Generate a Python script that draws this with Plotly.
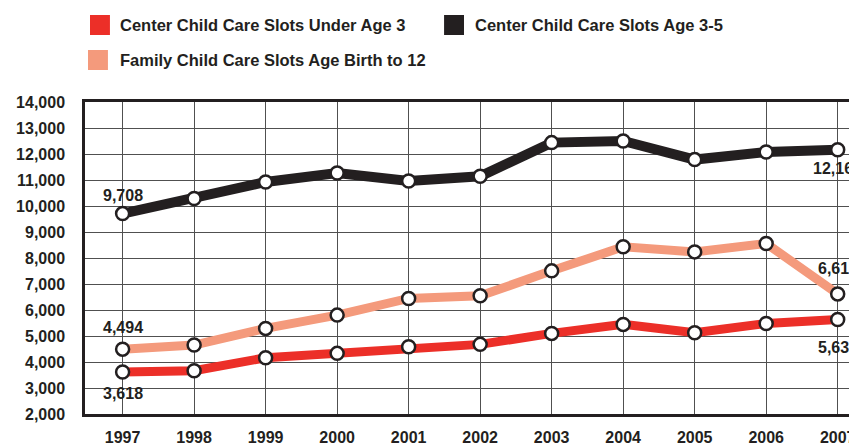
import plotly.graph_objects as go

years = [1997, 1998, 1999, 2000, 2001, 2002, 2003, 2004, 2005, 2006, 2007]
center_under3 = [3618, 3663, 4163, 4332, 4585, 4678, 5100, 5446, 5123, 5484, 5637]
center_age3_5 = [9708, 10287, 10924, 11270, 10963, 11143, 12438, 12500, 11785, 12077, 12161]
family_birth12 = [4494, 4651, 5292, 5803, 6445, 6545, 7505, 8430, 8235, 8558, 6619]

names = ["Center Child Care Slots Under Age 3",
         "Center Child Care Slots Age 3-5",
         "Family Child Care Slots Age Birth to 12"]
colors = ["#EC2F28", "#231F20", "#F49A7C"]

y_ticks = list(range(2000, 14001, 1000))

FONT = "Liberation Sans Narrow, Arial Narrow, Liberation Sans, sans-serif"
DARK = "#231F20"

# page offset (browser default body margin)
OFF = 8
W, H = 857, 447
ML, MT = 83 - OFF, 102 - OFF
MR = OFF
MB = H - (414 - OFF)
PW, PH = W - ML - MR, H - MT - MB


def px(x):
    return (x - OFF - ML) / PW


def py(y):
    return (H - MB - (y - OFF)) / PH


fig = go.Figure()

# (values, colour, line width, label y-shift for first point, for last point)
series = [
    (center_age3_5, colors[1], 10, 18, -19),
    (family_birth12, colors[2], 9, 22, 25),
    (center_under3, colors[0], 9, -22, -28),
]
for vals, col, lw, s_first, s_last in series:
    fig.add_trace(go.Scatter(
        x=years, y=vals, mode="lines+markers",
        line=dict(color=col, width=lw),
        marker=dict(size=13, color="white", line=dict(color=DARK, width=2.5)),
        cliponaxis=False, showlegend=False, hoverinfo="x+y",
    ))
    for idx, shift in ((0, s_first), (len(vals) - 1, s_last)):
        fig.add_annotation(x=years[idx], y=vals[idx], text=f"{vals[idx]:,}",
                           showarrow=False, yshift=shift, xanchor="center", yanchor="middle",
                           font=dict(family=FONT, size=16, color=DARK, weight="bold"))

fig.update_layout(
    width=W, height=H,
    margin=dict(l=ML, r=MR, t=MT, b=MB),
    paper_bgcolor="white", plot_bgcolor="white",
    font=dict(family=FONT, color=DARK),
    xaxis=dict(range=[1996.474, 2007.27], tickvals=years, ticktext=[str(y) for y in years],
               showgrid=True, gridcolor="#505050", gridwidth=1,
               showline=True, linecolor=DARK, linewidth=2.5, mirror=True,
               ticks="", ticklabelstandoff=7, zeroline=False,
               tickfont=dict(family=FONT, size=16, color=DARK, weight="bold")),
    yaxis=dict(range=[2000, 14000], tickvals=y_ticks, ticktext=[f"{v:,}" for v in y_ticks],
               showgrid=True, gridcolor="#505050", gridwidth=1,
               showline=True, linecolor=DARK, linewidth=2.5, mirror=False,
               ticks="", ticklabelstandoff=14, zeroline=False,
               tickfont=dict(family=FONT, size=16, color=DARK, weight="bold")),
)

# custom legend (squares + text), positions in page pixels
legend_items = [
    (names[0], colors[0], 88, 15, 116, 25),
    (names[1], colors[1], 443, 15, 472, 25),
    (names[2], colors[2], 86, 50, 116, 60),
]
for name, col, sx, sy, tx, ty in legend_items:
    fig.add_shape(type="rect", xref="paper", yref="paper",
                  x0=px(sx), x1=px(sx + 20), y0=py(sy + 20), y1=py(sy),
                  fillcolor=col, line=dict(width=0))
    fig.add_annotation(xref="paper", yref="paper", x=px(tx), y=py(ty),
                       xanchor="left", yanchor="middle", showarrow=False,
                       text=name, font=dict(family=FONT, size=16.5, color=DARK, weight="bold"))

fig.write_html("out.html")
